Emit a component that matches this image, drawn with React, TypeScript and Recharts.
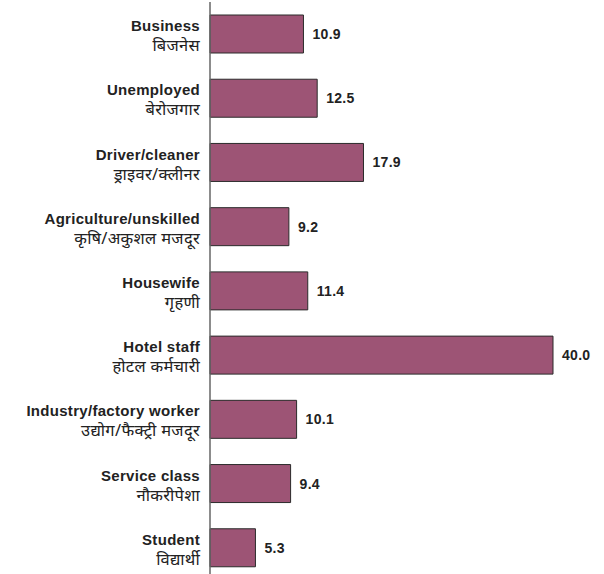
import { BarChart, Bar, XAxis, YAxis, LabelList } from 'recharts';

const englishLabels = [
  'Business',
  'Unemployed',
  'Driver/cleaner',
  'Agriculture/unskilled',
  'Housewife',
  'Hotel staff',
  'Industry/factory worker',
  'Service class',
  'Student',
];

const hindiLabels = [
  'बिजनेस',
  'बेरोजगार',
  'ड्राइवर/क्लीनर',
  'कृषि/अकुशल मजदूर',
  'गृहणी',
  'होटल कर्मचारी',
  'उद्योग/फैक्ट्री मजदूर',
  'नौकरीपेशा',
  'विद्यार्थी',
];

const shares = [10.9, 12.5, 17.9, 9.2, 11.4, 40.0, 10.1, 9.4, 5.3];

const data = englishLabels.map((name, i) => ({
  name,
  hindi: hindiLabels[i],
  value: shares[i],
}));

const FONT = '"Liberation Sans", Arial, sans-serif';

function TwoLineTick(props: any) {
  const { x, y, payload, index } = props;
  const hindi = hindiLabels[index] ?? '';
  return (
    <g>
      <text
        x={x}
        y={y - 3}
        textAnchor="end"
        fontFamily={FONT}
        fontWeight="bold"
        fontSize={15}
        letterSpacing={0.3}
        fill="#222"
      >
        {payload.value}
      </text>
      <text
        x={x}
        y={y + 17}
        textAnchor="end"
        fontFamily='"Noto Sans", "Lohit Devanagari", "FreeSans", sans-serif'
        fontSize={16.5}
        letterSpacing={0.3}
        fill="#222"
      >
        {hindi}
      </text>
    </g>
  );
}

export default function App() {
  return (
    <div style={{ position: 'absolute', left: 0, top: 0, background: '#fff' }}>
      <BarChart
        width={604}
        height={580}
        data={data}
        layout="vertical"
        margin={{ top: 2, right: 51, left: 0, bottom: 0 }}
      >
        <XAxis type="number" domain={[0, 40]} hide />
        <YAxis
          type="category"
          dataKey="name"
          width={210}
          tickLine={false}
          tickMargin={4}
          axisLine={{ stroke: '#666', strokeWidth: 1.5 }}
          tick={<TwoLineTick />}
          interval={0}
        />
        <Bar
          dataKey="value"
          fill="#9d5475"
          stroke="#2b2b2b"
          strokeWidth={1}
          barSize={38}
          isAnimationActive={false}
        >
          <LabelList
            dataKey="value"
            position="right"
            offset={9}
            formatter={(v: any) => Number(v).toFixed(1)}
            style={{ fontFamily: FONT, fontWeight: 'bold', fontSize: 14, letterSpacing: 0.3, fill: '#222' }}
          />
        </Bar>
      </BarChart>
    </div>
  );
}
